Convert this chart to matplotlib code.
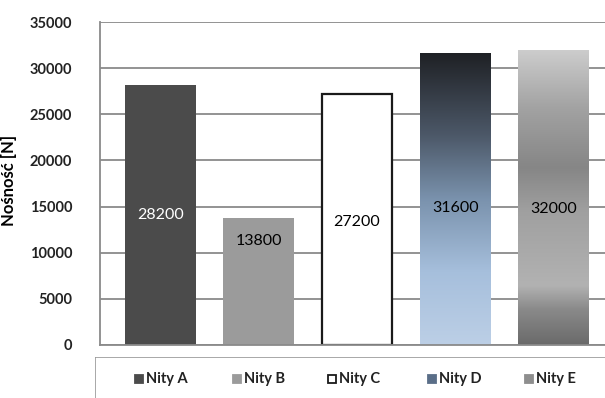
import numpy as np
import matplotlib.pyplot as plt
from matplotlib.colors import LinearSegmentedColormap
from matplotlib.patches import Rectangle

names = ['Nity A', 'Nity B', 'Nity C', 'Nity D', 'Nity E']
values = [28200, 13800, 27200, 31600, 32000]
# where the value label sits, as a fraction of the bar height
label_pos = [0.50, 0.82, 0.49, 0.47, 0.46]
label_colors = ['white', 'black', 'black', 'black', 'black']

plt.rcParams['font.family'] = ['Lato', 'DejaVu Sans']

fig = plt.figure(figsize=(6.05, 3.98), dpi=100)
ax = fig.add_axes([100 / 605, 53 / 398, 505 / 605, 323 / 398])

x = np.arange(len(names))
w = 0.72

ax.set_yticks(range(0, 35001, 5000))
ax.yaxis.grid(True, color='#8a8a8a', lw=1.3)
ax.set_axisbelow(True)
ax.set_xticks([])
for s in ['top', 'right']:
    ax.spines[s].set_visible(False)
for s in ['left', 'bottom']:
    ax.spines[s].set_color('#8a8a8a')
    ax.spines[s].set_linewidth(1.3)
ax.tick_params(axis='y', length=0, pad=20, labelsize=10.5)
for t in ax.get_yticklabels():
    t.set_fontweight('bold')
    t.set_color('#222222')
ax.set_ylabel('Nośność [N]', fontsize=12, fontweight='bold')
ax.yaxis.set_label_coords(-0.164, 0.51)

face = ['#4b4b4b', '#9b9b9b', 'white', 'none', 'none']
edge = ['none', 'none', '#1a1a1a', 'none', 'none']
bars = ax.bar(x, values, width=w, color=face, edgecolor=edge, linewidth=1.6, zorder=2)

# gradient fills for D and E (colour list runs from bottom to top)
grad_d = LinearSegmentedColormap.from_list('d', [
    (0.0, '#bccfe6'), (0.25, '#a6bfdc'), (0.5, '#7a92ad'),
    (0.72, '#4c5868'), (1.0, '#1f2125')])
grad_e = LinearSegmentedColormap.from_list('e', [
    (0.0, '#6a6a6a'), (0.12, '#8a8a8a'), (0.2, '#b2b2b2'),
    (0.45, '#a0a0a0'), (0.6, '#868686'), (0.8, '#a2a2a2'), (1.0, '#cdcdcd')])
for i, cmap in [(3, grad_d), (4, grad_e)]:
    g = np.linspace(0, 1, 256).reshape(-1, 1)
    im = ax.imshow(g, cmap=cmap, origin='lower', aspect='auto',
                   extent=[x[i] - w / 2, x[i] + w / 2, 0, values[i]], zorder=2)
    im.set_clip_path(bars[i])
ax.set_xlim(-0.616, 4.524)
ax.set_ylim(0, 35000)

for i, v in enumerate(values):
    ax.text(x[i], v * label_pos[i], str(v), ha='center', va='center',
            fontsize=11.5, color=label_colors[i], zorder=4)

# legend strip below the plot
lax = fig.add_axes([95 / 605, 0, 515 / 605, 41 / 398])
lax.set_xlim(0, 515)
lax.set_ylim(0, 41)
lax.axis('off')
lax.add_patch(Rectangle((0, -5), 520, 46, fill=False, edgecolor='#9a9a9a', lw=1.2))
swatch = ['#4b4b4b', '#9b9b9b', 'white', '#5a6e88', '#8e8e8e']
sw_edge = ['#4b4b4b', '#9b9b9b', '#1a1a1a', '#5a6e88', '#8e8e8e']
lx = [40, 138, 233, 333, 430]
for i, n in enumerate(names):
    lax.add_patch(Rectangle((lx[i], 15), 8, 8, facecolor=swatch[i],
                            edgecolor=sw_edge[i], lw=1.3))
    lax.text(lx[i] + 11, 19, n, ha='left', va='center', fontsize=10.5,
             fontweight='bold', color='#222222')

fig.savefig('out.png', dpi=100)
